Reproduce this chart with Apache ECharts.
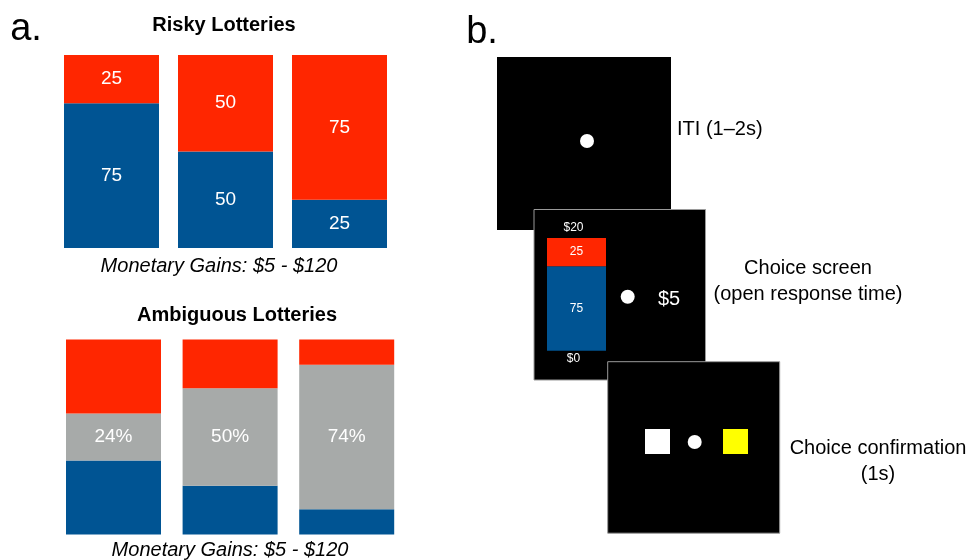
<!DOCTYPE html>
<html>
<head>
<meta charset="utf-8">
<script src="https://cdn.jsdelivr.net/npm/echarts@6/dist/echarts.min.js"></script>
<style>
  html, body { margin: 0; padding: 0; background: #fff; }
  #chart { width: 971px; height: 560px; }
</style>
</head>
<body>
<div id="chart"></div>
<script>
// lotteries: proportions (%) of blue / red chips
var lotteries = ['L1', 'L2', 'L3']
var riskyBlue = [75, 50, 25]
var riskyRed = [25, 50, 75]
var ambBlue = [38, 25, 13]
var ambGray = [24, 50, 74]
var ambRed = [38, 25, 13]
// example lottery shown on the choice screen
var exampleBlue = [75]
var exampleRed = [25]

var RED = '#ff2600'
var BLUE = '#005493'
var GRAY = '#a7aaa9'
var FONT = '"Liberation Sans", Arial, Helvetica, sans-serif'

var chart = echarts.init(document.getElementById('chart'))

function bar(name, data, color, grid, fmt, fontSize, z) {
    return {
        name: name,
        type: 'bar',
        stack: 'g' + grid,
        xAxisIndex: grid,
        yAxisIndex: grid,
        barWidth: grid === 2 ? 59 : 95,
        data: data,
        z: z || 2,
        itemStyle: { color: color },
        label: {
            show: fmt !== null,
            position: 'inside',
            color: '#fff',
            fontFamily: FONT,
            fontSize: fontSize,
            formatter: fmt || '{c}'
        },
        emphasis: { disabled: true },
        silent: true,
        animation: false
    }
}

function hiddenX(data, g) {
    return { type: 'category', gridIndex: g, data: data, show: false }
}
function hiddenY(g) {
    return { type: 'value', gridIndex: g, min: 0, max: 100, show: false }
}

var txt = function (x, y, s, size, opts) {
    opts = opts || {}
    return {
        type: 'text', x: x, y: y, z: opts.z || 10,
        style: {
            text: s, fill: opts.fill || '#000',
            font: (opts.style || 'normal') + ' ' + (opts.weight || 'normal') + ' ' + size + 'px ' + FONT,
            textAlign: opts.align || 'center', textVerticalAlign: 'middle'
        }
    }
}
var rect = function (x, y, w, h, fill, z, stroke) {
    return {
        type: 'rect', z: z, shape: { x: x, y: y, width: w, height: h },
        style: { fill: fill, stroke: stroke || null, lineWidth: stroke ? 1 : 0 }
    }
}
var dot = function (cx, cy, z) {
    return { type: 'circle', z: z, shape: { cx: cx, cy: cy, r: 7 }, style: { fill: '#fff' } }
}

chart.setOption({
    animation: false,
    grid: [
        { left: 54.5, top: 55, width: 342, height: 193 },
        { left: 55.2, top: 339.5, width: 349.8, height: 195 },
        { left: 547, top: 238, width: 59, height: 112.7 }
    ],
    xAxis: [hiddenX(lotteries, 0), hiddenX(lotteries, 1), hiddenX(['ex'], 2)],
    yAxis: [hiddenY(0), hiddenY(1), hiddenY(2)],
    series: [
        bar('blue', riskyBlue, BLUE, 0, undefined, 19),
        bar('red', riskyRed, RED, 0, undefined, 19),
        bar('blue', ambBlue, BLUE, 1, null, 19),
        bar('gray', ambGray, GRAY, 1, '{c}%', 19),
        bar('red', ambRed, RED, 1, null, 19),
        bar('blue', exampleBlue, BLUE, 2, undefined, 12, 3),
        bar('red', exampleRed, RED, 2, undefined, 12, 3)
    ],
    graphic: [
        // panel a
        txt(26, 30, 'a.', 38, { align: 'center' }),
        txt(224, 25, 'Risky Lotteries', 20, { weight: 'bold' }),
        txt(219, 266, 'Monetary Gains: $5 - $120', 20, { style: 'italic' }),
        txt(237, 315, 'Ambiguous Lotteries', 20, { weight: 'bold' }),
        txt(230, 550, 'Monetary Gains: $5 - $120', 20, { style: 'italic' }),
        // panel b
        txt(482, 33, 'b.', 38),
        rect(497, 57, 174, 173, '#000', 0),
        dot(587, 141, 0),
        txt(677, 129, 'ITI (1\u20132s)', 20, { align: 'left' }),
        rect(534, 209.5, 171.5, 170.5, '#000', 1, '#9a9a9a'),
        txt(573.5, 228, '$20', 12, { fill: '#fff', z: 2 }),
        txt(573.5, 359, '$0', 12, { fill: '#fff', z: 2 }),
        dot(627.7, 296.7, 2),
        txt(669, 299, '$5', 20, { fill: '#fff', z: 2 }),
        txt(808, 268, 'Choice screen', 20),
        txt(808, 294, '(open response time)', 20),
        rect(607.7, 361.7, 172, 171.5, '#000', 4, '#9a9a9a'),
        rect(645, 429, 25, 25, '#fff', 5),
        dot(694.7, 442, 5),
        rect(723, 429, 25, 25, '#ffff00', 5),
        txt(878, 448, 'Choice confirmation', 20),
        txt(878, 474, '(1s)', 20)
    ]
})
</script>
</body>
</html>
